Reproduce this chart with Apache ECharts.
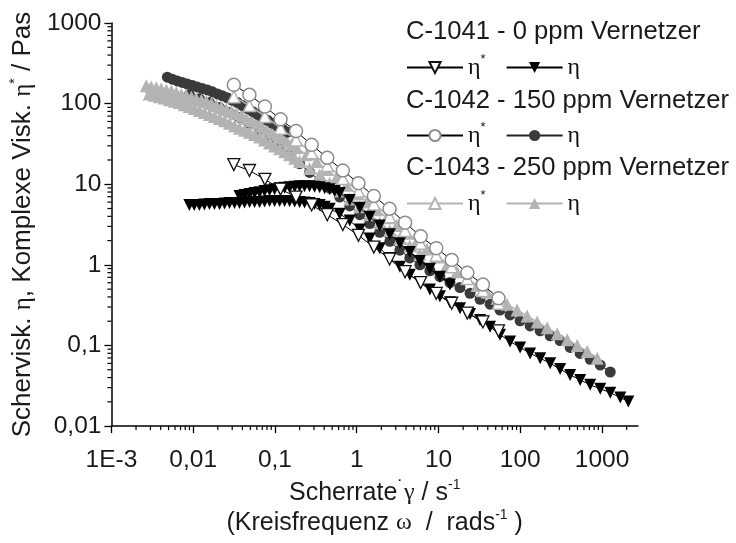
<!DOCTYPE html>
<html><head><meta charset="utf-8">
<script src="https://cdn.jsdelivr.net/npm/echarts@6/dist/echarts.min.js"></script>
<style>html,body{margin:0;padding:0;background:#fff}#c{width:736px;height:543px}</style>
</head><body><div id="c"></div>
<script>
// ---- axis ticks ----
const xTickValues = [0.001, 0.01, 0.1, 1, 10, 100, 1000];
const xTickLabels = ['1E-3', '0,01', '0,1', '1', '10', '100', '1000'];
const yTickValues = [0.01, 0.1, 1, 10, 100, 1000];
const yTickLabels = ['0,01', '0,1', '1', '10', '100', '1000'];

// ---- oscillatory data (complex viscosity eta*) ----
const omega = [0.0314, 0.0487, 0.0754, 0.117, 0.181, 0.281, 0.436, 0.676, 1.05, 1.62, 2.52, 3.90, 6.05, 9.38, 14.5, 22.5, 34.9, 54.1];
const etaStar1041 = [17.5, 14.8, 11.5, 8.69, 6.94, 5.54, 4.19, 3.16, 2.32, 1.66, 1.18, 0.822, 0.603, 0.443, 0.334, 0.252, 0.196, 0.152];
const etaStar1042 = [171, 129, 91.9, 63.8, 45.6, 30.8, 21.3, 14.8, 10.3, 7.14, 4.96, 3.34, 2.26, 1.61, 1.15, 0.798, 0.570, 0.385];
const etaStar1043 = [122, 94.6, 69.3, 49.6, 35.4, 24.6, 17.1, 11.8, 8.22, 5.70, 3.96, 2.67, 1.85, 1.32, 0.945, 0.675, 0.482, 0.334];

// ---- steady shear data (eta), two runs each ----
const rate1041a = [0.00898, 0.0103, 0.0119, 0.0137, 0.0158, 0.0182, 0.0210, 0.0242, 0.0278, 0.0320, 0.0368, 0.0424, 0.0489, 0.0563, 0.0648, 0.0746, 0.0859, 0.0989, 0.114, 0.131, 0.151, 0.174, 0.200, 0.230, 0.265, 0.305, 0.352, 0.405, 0.467, 0.619, 0.821, 1.09, 1.44, 1.91, 2.54, 3.37, 4.46, 5.92, 7.85, 10.4, 13.8, 18.3, 24.3, 32.2, 42.7, 56.5, 75.0, 99.5, 132, 175, 232, 307, 407, 540, 716, 950, 1260, 1670, 2095];
const eta1041a = [5.54, 5.54, 5.54, 5.62, 5.70, 5.70, 5.70, 5.78, 5.86, 5.86, 5.86, 5.95, 6.03, 6.03, 6.03, 6.12, 6.21, 6.21, 6.21, 6.21, 6.21, 6.12, 6.03, 5.95, 5.86, 5.70, 5.54, 5.24, 4.96, 4.31, 3.54, 2.75, 2.13, 1.61, 1.22, 0.945, 0.755, 0.603, 0.495, 0.407, 0.344, 0.290, 0.245, 0.207, 0.171, 0.136, 0.112, 0.0946, 0.0798, 0.0694, 0.0603, 0.0509, 0.0431, 0.0374, 0.0325, 0.0290, 0.0260, 0.0226, 0.0202];
const rate1041b = [0.0368, 0.0424, 0.0489, 0.0563, 0.0648, 0.0746, 0.0859, 0.0989, 0.114, 0.131, 0.151, 0.174, 0.200, 0.230, 0.265, 0.305, 0.352, 0.405, 0.467, 0.537, 0.619, 0.821, 1.09, 1.44, 1.91, 2.54, 3.37, 4.46, 5.92, 7.85, 10.4, 13.8];
const eta1041b = [7.14, 7.34, 7.55, 7.76, 7.98, 8.22, 8.45, 8.69, 8.94, 9.06, 9.19, 9.33, 9.46, 9.46, 9.46, 9.33, 9.19, 8.94, 8.69, 8.22, 7.76, 6.38, 5.10, 3.96, 3.07, 2.39, 1.85, 1.44, 1.12, 0.893, 0.714, 0.570];

const rate1042a = [0.00483, 0.00556, 0.00640, 0.00737, 0.00849, 0.00977, 0.0112, 0.0129, 0.0149, 0.0172, 0.0198, 0.0228, 0.0262, 0.0302, 0.0348, 0.0400, 0.0462, 0.0532, 0.0612, 0.0705, 0.0812, 0.0935, 0.108, 0.124, 0.143];
const eta1042a = [213, 201, 191, 183, 175, 168, 161, 154, 148, 140, 132, 125, 118, 110, 103, 94.5, 86.9, 80, 73.4, 67.5, 62.1, 57, 52.4, 48.2, 44.3];
const rate1042b = [0.00898, 0.0119, 0.0158, 0.0210, 0.0278, 0.0368, 0.0489, 0.0648, 0.0859, 0.114, 0.151, 0.200, 0.265, 0.352, 0.467, 0.619, 0.821, 1.09, 1.44, 1.91, 2.54, 3.37, 4.46, 5.92, 7.85, 10.4, 13.8, 18.3, 24.3, 32.2, 42.7, 56.5, 75.0, 99.5, 132, 175, 232, 307, 407, 540, 716, 950, 1260];
const eta1042b = [129, 115, 103, 89.3, 77.6, 67.4, 57.0, 46.9, 37.4, 29.1, 22.6, 18.0, 14.0, 11.2, 8.94, 6.94, 5.39, 4.19, 3.25, 2.53, 1.96, 1.52, 1.22, 1.00, 0.845, 0.714, 0.603, 0.524, 0.443, 0.374, 0.325, 0.275, 0.239, 0.202, 0.175, 0.152, 0.132, 0.115, 0.0946, 0.0798, 0.0675, 0.0571, 0.0469];

const rate1043a = [0.00267, 0.00307, 0.00354, 0.00407, 0.00469, 0.00540, 0.00622, 0.00716, 0.00826, 0.00950, 0.0109, 0.0126, 0.0145, 0.0167, 0.0192, 0.0221, 0.0255, 0.0294, 0.0338, 0.0389, 0.0449, 0.0517, 0.0595, 0.0685, 0.0789, 0.0908, 0.105, 0.121, 0.139, 0.160, 0.184, 0.244, 0.324, 0.429, 0.569, 0.754, 1.00, 1.33, 1.76, 2.33, 3.09, 4.10, 5.43, 7.21, 9.56, 12.7, 16.8, 22.3, 29.6, 39.2, 52.0, 68.9, 91.4, 121, 161, 213, 283, 375, 497, 659, 873];
const eta1043a = [166, 161, 157, 152, 148, 142, 136, 130, 125, 120, 115, 110, 106, 100, 94.6, 89.4, 84.5, 80, 75.5, 70.5, 65.6, 61.2, 57.0, 52.4, 48.2, 44.3, 40.7, 37.4, 34.4, 31.2, 28.3, 23.2, 19.1, 15.2, 12.2, 9.72, 7.55, 6.03, 4.82, 3.85, 3.07, 2.46, 1.96, 1.57, 1.25, 1.00, 0.822, 0.675, 0.554, 0.456, 0.385, 0.325, 0.275, 0.232, 0.196, 0.166, 0.140, 0.118, 0.100, 0.0845, 0.0694];
const rate1043b = [0.00290, 0.00334, 0.00385, 0.00443, 0.00511, 0.00588, 0.00677, 0.00779, 0.00898, 0.0103, 0.0119, 0.0137, 0.0158, 0.0182, 0.0210, 0.0242, 0.0278, 0.0320, 0.0368, 0.0424, 0.0489, 0.0563, 0.0648, 0.0746, 0.0859, 0.0989, 0.114, 0.131, 0.151, 0.174, 0.200, 0.265, 0.352, 0.467, 0.619, 0.821, 1.09, 1.44, 1.91, 2.54, 3.37, 4.46, 5.92];
const eta1043b = [132, 127, 122, 117, 112, 107, 103, 97, 91.9, 86.9, 82.2, 77.6, 73.4, 69.3, 65.6, 61.2, 57.0, 53.2, 49.6, 46.9, 44.3, 41.3, 38.5, 35.4, 32.5, 29.9, 27.5, 25.3, 23.2, 21.0, 19.1, 15.7, 12.9, 10.3, 8.22, 6.56, 5.24, 4.19, 3.34, 2.67, 2.13, 1.71, 1.36];

const groupTitles = ['C-1041 - 0 ppm Vernetzer', 'C-1042 - 150 ppm Vernetzer', 'C-1043 - 250 ppm Vernetzer'];

// ---- build ----
const SANS = "'Liberation Sans', Arial, sans-serif";
const SERIF = "'Liberation Serif', 'Times New Roman', serif";
const zip = (xs, ys) => xs.map((x, i) => [x, ys[i]]);

function line(name, xs, ys, o) {
  return {
    type: 'line', name: name, data: zip(xs, ys),
    symbol: o.symbol, symbolSize: o.size, symbolRotate: o.rot || 0,
    showAllSymbol: true, animation: false, z: o.z,
    itemStyle: { color: o.fill, borderColor: o.stroke, borderWidth: o.bw },
    lineStyle: { color: o.line, width: o.lw || 1 },
    emphasis: { disabled: true }
  };
}

const BLACK = '#000000', DARK = '#3a3a3a', MID = '#8c8c8c', LIGHT = '#b3b3b3';

const series = [
  line('η C-1042', rate1042b, eta1042b, { symbol: 'circle', size: 11, fill: DARK, stroke: DARK, bw: 0, line: '#222', z: 2 }),
  line('η C-1043', rate1043b, eta1043b, { symbol: 'triangle', size: 13, fill: LIGHT, stroke: LIGHT, bw: 0, line: LIGHT, lw: 1.5, z: 3 }),
  line('η C-1043', rate1043a, eta1043a, { symbol: 'triangle', size: 13, fill: LIGHT, stroke: LIGHT, bw: 0, line: LIGHT, lw: 1.5, z: 3 }),
  line('η C-1042', rate1042a, eta1042a, { symbol: 'circle', size: 11, fill: DARK, stroke: DARK, bw: 0, line: '#222', z: 4 }),
  line('η* C-1043', omega, etaStar1043, { symbol: 'triangle', size: 12, fill: '#ffffff', stroke: LIGHT, bw: 1.5, line: LIGHT, lw: 1.5, z: 5 }),
  line('η C-1041', rate1041a, eta1041a, { symbol: 'triangle', size: 12, rot: 180, fill: BLACK, stroke: BLACK, bw: 0, line: BLACK, z: 6 }),
  line('η C-1041', rate1041b, eta1041b, { symbol: 'triangle', size: 12, rot: 180, fill: BLACK, stroke: BLACK, bw: 0, line: BLACK, z: 6 }),
  line('η* C-1041', omega, etaStar1041, { symbol: 'triangle', size: 12, rot: 180, fill: '#ffffff', stroke: '#111', bw: 1.3, line: BLACK, z: 7 }),
  line('η* C-1042', omega, etaStar1042, { symbol: 'circle', size: 13, fill: '#ffffff', stroke: MID, bw: 1.5, line: BLACK, z: 8 })
];

const legendRich = {
  e: { fontFamily: SERIF, fontSize: 24, color: '#111' },
  s: { fontFamily: SANS, fontSize: 13, color: '#111', padding: [0, 0, 16, 0] }
};
function legendFmt(name) { return name.indexOf('η*') === 0 ? '{e|η}{s|*}' : '{e|η}'; }
const legendNames = [['η* C-1041', 'η C-1041'], ['η* C-1042', 'η C-1042'], ['η* C-1043', 'η C-1043']];
const legendTops = [53, 121, 189];
const titleTops = [19, 88, 155];

function xLabel(v) {
  const e = Math.log10(v), r = Math.round(e);
  if (Math.abs(e - r) > 1e-6) return '';
  const i = xTickValues.findIndex(t => Math.abs(Math.log10(t) - r) < 1e-6);
  return i >= 0 ? xTickLabels[i] : '';
}
function yLabel(v) {
  const e = Math.log10(v), r = Math.round(e);
  if (Math.abs(e - r) > 1e-6) return '';
  const i = yTickValues.findIndex(t => Math.abs(Math.log10(t) - r) < 1e-6);
  return i >= 0 ? yTickLabels[i] : '';
}

const chart = echarts.init(document.getElementById('c'), null, { renderer: 'canvas' });
chart.setOption({
  backgroundColor: '#ffffff',
  animation: false,
  textStyle: { fontFamily: SANS },
  grid: { left: 111, right: 98, top: 23, bottom: 107, containLabel: false },
  title: groupTitles.map((t, i) => ({
    text: t, left: 406, top: titleTops[i], padding: 0,
    textStyle: { fontFamily: SANS, fontSize: 25.6, fontWeight: 'normal', color: '#1a1a1a' }
  })),
  legend: legendNames.map((d, i) => ({
    data: d, left: 406, top: legendTops[i], padding: 0, orient: 'horizontal',
    itemWidth: 56, itemHeight: 14, itemGap: 20, selectedMode: false,
    formatter: legendFmt, textStyle: { rich: legendRich, padding: [0, 0, 0, 0] }
  })),
  xAxis: {
    type: 'log', logBase: 10, min: 0.001, max: 2750,
    axisLine: { show: true, onZero: false, lineStyle: { color: '#000', width: 1.5 } },
    axisTick: { show: true, inside: false, length: 7, lineStyle: { color: '#000', width: 1.3 } },
    splitLine: { show: false },
    axisLabel: { formatter: xLabel, fontFamily: SANS, fontSize: 24.5, color: '#1a1a1a', margin: 22, showMaxLabel: false },
    name: '{t|Scherrate}{d|˙}{g|γ}{t| / s}{s|-1}\n{t|(Kreisfrequenz }{g|ω}{t|  /  rads}{s|-1}{t| )}',
    nameLocation: 'middle', nameGap: 41,
    nameTextStyle: {
      rich: {
        t: { fontFamily: SANS, fontSize: 25, color: '#1a1a1a', lineHeight: 30 },
        g: { fontFamily: SERIF, fontSize: 24, color: '#1a1a1a', lineHeight: 30 },
        d: { fontFamily: SANS, fontSize: 20, color: '#1a1a1a', lineHeight: 30, padding: [0, 0, 10, 0] },
        s: { fontFamily: SANS, fontSize: 14, color: '#1a1a1a', lineHeight: 30, padding: [0, 0, 16, 0] }
      }
    }
  },
  yAxis: {
    type: 'log', logBase: 10, min: 0.01, max: 1000,
    axisLine: { show: true, onZero: false, lineStyle: { color: '#000', width: 1.5 } },
    axisTick: { show: true, inside: false, length: 7, lineStyle: { color: '#000', width: 1.3 } },
    splitLine: { show: false },
    axisLabel: { formatter: yLabel, fontFamily: SANS, fontSize: 24.5, color: '#1a1a1a', margin: 10 },
    name: '{t|Schervisk. }{g|η}{t|, Komplexe Visk. }{g|η}{s|*}{t| / Pas}',
    nameLocation: 'middle', nameRotate: 90, nameGap: 70,
    nameTextStyle: {
      rich: {
        t: { fontFamily: SANS, fontSize: 26, color: '#1a1a1a' },
        g: { fontFamily: SERIF, fontSize: 25, color: '#1a1a1a' },
        s: { fontFamily: SANS, fontSize: 14, color: '#1a1a1a', padding: [0, 0, 16, 0] }
      }
    }
  },
  series: series
});

// minor log ticks (2..9 per decade), positioned through the axes' own scales
const minorX = [], minorY = [];
for (let d = -3; d <= 3; d++) for (let k = 2; k <= 9; k++) { const v = k * Math.pow(10, d); if (v < 2750) minorX.push(v); }
for (let d = -2; d <= 2; d++) for (let k = 2; k <= 9; k++) minorY.push(k * Math.pow(10, d));
const xAxisY = chart.convertToPixel({ yAxisIndex: 0 }, 0.01);
const yAxisX = chart.convertToPixel({ xAxisIndex: 0 }, 0.001);
const ticks = [];
minorX.forEach(v => { const p = chart.convertToPixel({ xAxisIndex: 0 }, v);
  ticks.push({ type: 'line', silent: true, shape: { x1: p, y1: xAxisY, x2: p, y2: xAxisY + 4 }, style: { stroke: '#000', lineWidth: 1.2 } }); });
minorY.forEach(v => { const p = chart.convertToPixel({ yAxisIndex: 0 }, v);
  ticks.push({ type: 'line', silent: true, shape: { x1: yAxisX, y1: p, x2: yAxisX - 4, y2: p }, style: { stroke: '#000', lineWidth: 1.2 } }); });
chart.setOption({ graphic: ticks });
</script></body></html>
